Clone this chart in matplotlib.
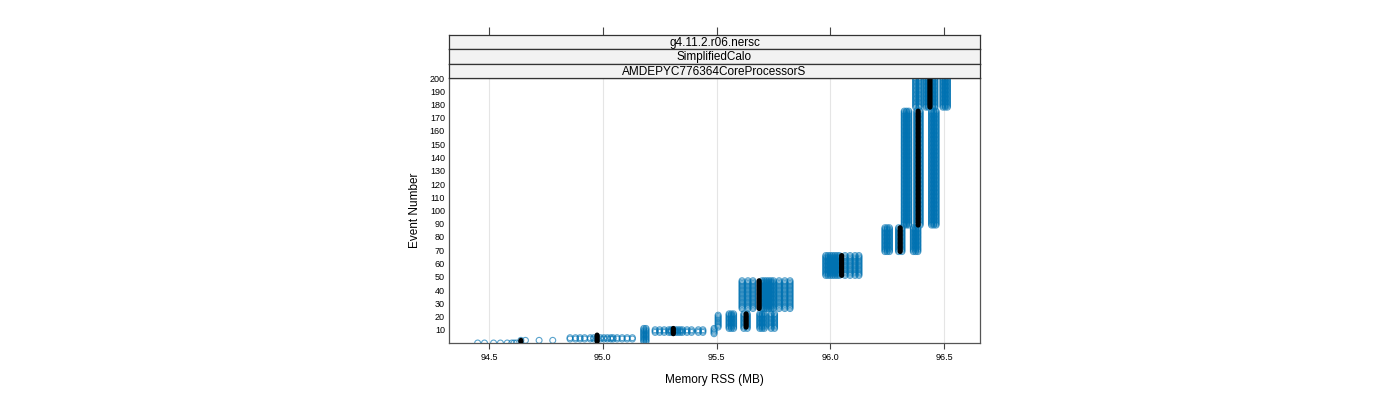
import numpy as np
import matplotlib
matplotlib.use("Agg")
import matplotlib.pyplot as plt

plt.rcParams['font.family'] = ['Liberation Sans', 'DejaVu Sans']

# ---- data: columns of points (memory in MB, first event, last event) ----
blue_mem = [94.45, 94.48, 94.52, 94.55, 94.58, 94.60, 94.61, 94.62,
            94.64, 94.66, 94.72, 94.78,
            94.856, 94.88, 94.90, 94.92, 94.945, 94.96, 94.975, 94.99, 95.005,
            95.02, 95.035, 95.045, 95.063, 95.085, 95.107, 95.13,
            95.18, 95.19,
            95.23, 95.25, 95.27, 95.29, 95.30, 95.31, 95.32, 95.33, 95.34,
            95.35, 95.37, 95.39, 95.42, 95.44,
            95.489, 95.507,
            95.555, 95.565, 95.575,
            95.62, 95.635,
            95.69, 95.70, 95.71,
            95.74, 95.755,
            95.612, 95.638, 95.66, 95.70, 95.71, 95.72, 95.73, 95.74, 95.75,
            95.775, 95.80, 95.823,
            95.98, 95.99, 96.00, 96.01, 96.02, 96.03, 96.04, 96.065, 96.087,
            96.109, 96.126,
            96.24, 96.25, 96.26,
            96.30, 96.315,
            96.365, 96.375, 96.385,
            96.325, 96.335, 96.345,
            96.38, 96.395,
            96.445, 96.455, 96.465,
            96.375, 96.39,
            96.42, 96.43, 96.45, 96.46,
            96.495, 96.505, 96.515]
blue_first = [0, 0, 0, 0, 0, 0, 0, 0,
              2, 2, 2, 2,
              3, 3, 3, 3, 3, 3, 3, 3, 3, 3, 3, 3, 3, 3, 3, 3,
              1, 1,
              8, 8, 8, 8, 8, 8, 8, 8, 8, 8, 8, 8, 8, 8,
              7, 12,
              11, 11, 11,
              11, 11,
              11, 11, 11,
              11, 11,
              26, 26, 26, 26, 26, 26, 26, 26, 26, 26, 26, 26,
              51, 51, 51, 51, 51, 51, 51, 51, 51, 51, 51,
              69, 69, 69,
              69, 69,
              69, 69, 69,
              89, 89, 89,
              89, 89,
              89, 89, 89,
              178, 178,
              178, 178, 178, 178,
              178, 178, 178]
blue_last = [0, 0, 0, 0, 0, 0, 0, 0,
             2, 2, 2, 2,
             4, 4, 4, 4, 4, 4, 4, 4, 4, 4, 4, 4, 4, 4, 4, 4,
             11, 11,
             10, 10, 10, 10, 10, 10, 10, 10, 10, 10, 10, 10, 10, 10,
             11, 21,
             22, 22, 22,
             22, 22,
             22, 22, 22,
             22, 22,
             47, 47, 47, 47, 47, 47, 47, 47, 47, 47, 47, 47,
             66, 66, 66, 66, 66, 66, 66, 66, 66, 66, 66,
             87, 87, 87,
             87, 87,
             87, 87, 87,
             175, 175, 175,
             175, 175,
             175, 175, 175,
             200, 200,
             200, 200, 200, 200,
             200, 200, 200]

black_mem = [94.64, 94.975, 95.31, 95.63, 95.687, 96.05, 96.307, 96.386, 96.438]
black_first = [1, 1, 7, 12, 26, 51, 69, 89, 178]
black_last = [2, 6, 11, 22, 47, 66, 87, 175, 200]

x_ticks = [94.5, 95.0, 95.5, 96.0, 96.5]
y_ticks = list(range(10, 201, 10))
strip_labels = ["g4.11.2.r06.nersc", "SimplifiedCalo", "AMDEPYC776364CoreProcessorS"]


def expand(mems, firsts, lasts):
    xs, ys = [], []
    for m, a, b in zip(mems, firsts, lasts):
        ev = np.arange(a, b + 1)
        xs.append(np.full(ev.shape, m, dtype=float))
        ys.append(ev)
    return np.concatenate(xs), np.concatenate(ys)


bx, by = expand(blue_mem, blue_first, blue_last)
kx, ky = expand(black_mem, black_first, black_last)

fig = plt.figure(figsize=(14, 4), dpi=100)
W, H = 1400.0, 400.0
left, right = 449 / W, 980 / W
bottom, top = 1 - 343 / H, 1 - 78 / H
ax = fig.add_axes([left, bottom, right - left, top - bottom])

ax.set_xlim(94.324, 96.658)
ax.set_ylim(0, 200)
for xv in x_ticks:
    ax.axvline(xv, color='#e5e5e5', lw=0.8, zorder=0)

ax.scatter(bx, by, s=18, facecolors='none', edgecolors='#0072B2',
           linewidths=0.8, alpha=0.65, zorder=2)
ax.scatter(kx, ky, s=13, c='black', edgecolors='none', zorder=3)

ax.set_xticks(x_ticks)
ax.set_xticklabels([f"{v:.1f}" for v in x_ticks], fontsize=6.5)
ax.set_yticks(y_ticks)
ax.set_yticklabels([str(v) for v in y_ticks], fontsize=6.5)
ax.tick_params(axis='x', direction='out', length=4, width=0.8, color='#444444', pad=3)
ax.tick_params(axis='y', direction='out', length=0, pad=3)
for sp in ax.spines.values():
    sp.set_color('#555555')
    sp.set_linewidth(0.9)
ax.set_xlabel("Memory RSS (MB)", fontsize=8.5, labelpad=9)
ax.set_ylabel("Event Number", fontsize=8.5, labelpad=6)

# strips
strip_tops = [35, 49, 64]
strip_bots = [49, 64, 78]
for i, (lab, st, sb) in enumerate(zip(strip_labels, strip_tops, strip_bots)):
    sax = fig.add_axes([left, 1 - sb / H, right - left, (sb - st) / H])
    sax.set_facecolor('#f2f2f2')
    sax.set_xlim(ax.get_xlim())
    sax.set_ylim(0, 1)
    sax.set_yticks([])
    if i == 0:
        sax.set_xticks(x_ticks)
        sax.xaxis.set_ticks_position('top')
        sax.tick_params(axis='x', direction='out', length=6, width=0.8,
                        color='#444444', labeltop=False, labelbottom=False)
    else:
        sax.set_xticks([])
    for sp in sax.spines.values():
        sp.set_color('#333333')
        sp.set_linewidth(0.9)
    sax.text(0.5, 0.45, lab, transform=sax.transAxes, ha='center', va='center',
             fontsize=8.5)

fig.savefig("out.png", dpi=100)
